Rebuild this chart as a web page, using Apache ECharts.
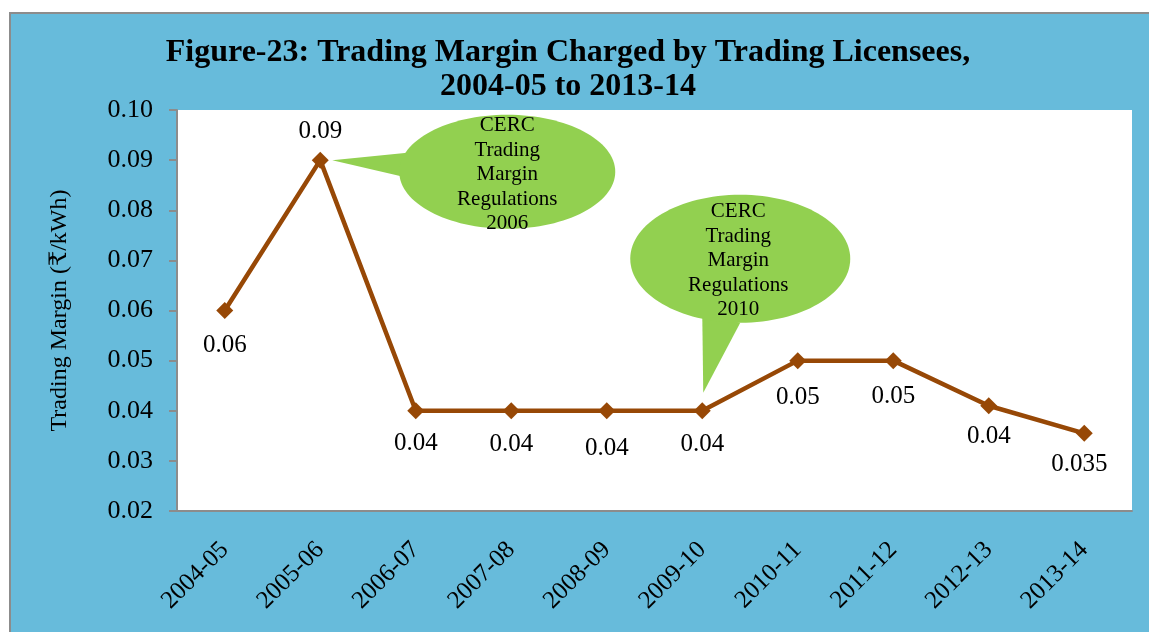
<!DOCTYPE html>
<html>
<head>
<meta charset="utf-8">
<script src="https://cdn.jsdelivr.net/npm/echarts@6/dist/echarts.min.js"></script>
<style>
  html, body { margin: 0; padding: 0; background: #ffffff; overflow: hidden; }
  #frame { position: absolute; left: 9px; top: 12px; width: 1200px; height: 700px;
           background: #67BBDB; border-left: 2px solid #8c8c8c; border-top: 2px solid #8c8c8c; box-sizing: border-box; }
  #chart { position: absolute; left: 0; top: 0; width: 1149px; height: 632px; }
</style>
</head>
<body>
<div id="frame"></div>
<div id="chart"></div>
<script>
// ---- data ----
const categories = ['2004-05','2005-06','2006-07','2007-08','2008-09','2009-10','2010-11','2011-12','2012-13','2013-14'];
const marginValues = [0.06, 0.09, 0.04, 0.04, 0.04, 0.04, 0.05, 0.05, 0.041, 0.0355];
const pointLabels = ['0.06','0.09','0.04','0.04','0.04','0.04','0.05','0.05','0.04','0.035'];
const yTicks = { min: 0.02, max: 0.10, step: 0.01 };
const callouts = [
  { anchor: 1, text: 'CERC\nTrading\nMargin\nRegulations\n2006' },
  { anchor: 5, text: 'CERC\nTrading\nMargin\nRegulations\n2010' }
];

// ---- presentation ----
const SERIF = '"Liberation Serif", "Times New Roman", "DejaVu Serif", serif';
const LINE = '#974806';
const GREEN = '#92D050';
// label nudges (pixels) per point: [position, distance, dx]
const labelStyle = [
  ['bottom', 14, 0], ['top', 8, 0], ['bottom', 12, 0], ['bottom', 13, 0], ['bottom', 17, 0],
  ['bottom', 13, 0], ['bottom', 16, 0], ['bottom', 15, 0], ['bottom', 10, 0], ['bottom', 10, -5]
];

const chart = echarts.init(document.getElementById('chart'), null, { renderer: 'canvas' });

const seriesData = marginValues.map((v, i) => ({
  value: v,
  label: {
    show: true,
    position: labelStyle[i][0],
    distance: labelStyle[i][1],
    offset: [labelStyle[i][2], 0],
    formatter: () => pointLabels[i]
  }
}));

chart.setOption({
  backgroundColor: 'transparent',
  animation: false,
  title: {
    text: 'Figure-23: Trading Margin Charged by Trading Licensees,\n2004-05 to 2013-14',
    left: 563,
    textAlign: 'center',
    top: 31,
    textStyle: { fontFamily: SERIF, fontSize: 32, fontWeight: 'bold', color: '#000', lineHeight: 34 }
  },
  grid: {
    left: 177, top: 110, right: 17, bottom: 121,
    show: true, backgroundColor: '#ffffff', borderWidth: 0
  },
  xAxis: {
    type: 'category',
    data: categories,
    boundaryGap: true,
    axisLine: { show: true, lineStyle: { color: '#8c8c8c', width: 2 } },
    axisTick: { show: false },
    axisLabel: { rotate: 45, margin: 35, fontFamily: SERIF, fontSize: 25, color: '#000', interval: 0 }
  },
  yAxis: {
    type: 'value',
    min: yTicks.min, max: yTicks.max, interval: yTicks.step,
    name: 'Trading Margin (₹/kWh)',
    nameLocation: 'middle',
    nameRotate: 90,
    nameGap: 105,
    nameTextStyle: { fontFamily: SERIF, fontSize: 24, color: '#000' },
    axisLine: { show: true, lineStyle: { color: '#8c8c8c', width: 2 } },
    axisTick: { show: true, length: 8, lineStyle: { color: '#8c8c8c', width: 2 } },
    splitLine: { show: false },
    axisLabel: { margin: 24, fontFamily: SERIF, fontSize: 26, color: '#000',
                 formatter: v => v.toFixed(2) }
  },
  series: [{
    type: 'line',
    data: seriesData,
    symbol: 'diamond',
    symbolSize: 17,
    lineStyle: { color: LINE, width: 4.5 },
    itemStyle: { color: LINE },
    label: { fontFamily: SERIF, fontSize: 25, color: '#000' },
    z: 5
  }]
});

function drawCallouts() {
  const p1 = chart.convertToPixel({ seriesIndex: 0 }, [callouts[0].anchor, marginValues[callouts[0].anchor]]);
  const p2 = chart.convertToPixel({ seriesIndex: 0 }, [callouts[1].anchor, marginValues[callouts[1].anchor]]);
  const e1 = { cx: p1[0] + 187, cy: p1[1] + 11.5, rx: 108, ry: 57 };
  const e2 = { cx: p2[0] + 38, cy: p2[1] - 152, rx: 110, ry: 64 };
  const font = '21px ' + SERIF;
  chart.setOption({
    graphic: [
      { type: 'polygon', z: 10, shape: { points: [[p1[0] + 12, p1[1]], [e1.cx - 100, e1.cy - 19], [e1.cx - 104, e1.cy + 5]] }, style: { fill: GREEN } },
      { type: 'ellipse', z: 10, shape: e1, style: { fill: GREEN } },
      { type: 'text', z: 11, x: e1.cx, y: e1.cy + 3, style: { text: callouts[0].text, font: font, fill: '#000', align: 'center', verticalAlign: 'middle', lineHeight: 24.5 } },
      { type: 'polygon', z: 10, shape: { points: [[e2.cx - 38, e2.cy + 55], [p2[0] + 1, p2[1] - 18], [e2.cx, e2.cy + 64]] }, style: { fill: GREEN } },
      { type: 'ellipse', z: 10, shape: e2, style: { fill: GREEN } },
      { type: 'text', z: 11, x: e2.cx - 2, y: e2.cy + 2, style: { text: callouts[1].text, font: font, fill: '#000', align: 'center', verticalAlign: 'middle', lineHeight: 24.5 } }
    ]
  });
}
drawCallouts();
</script>
</body>
</html>
